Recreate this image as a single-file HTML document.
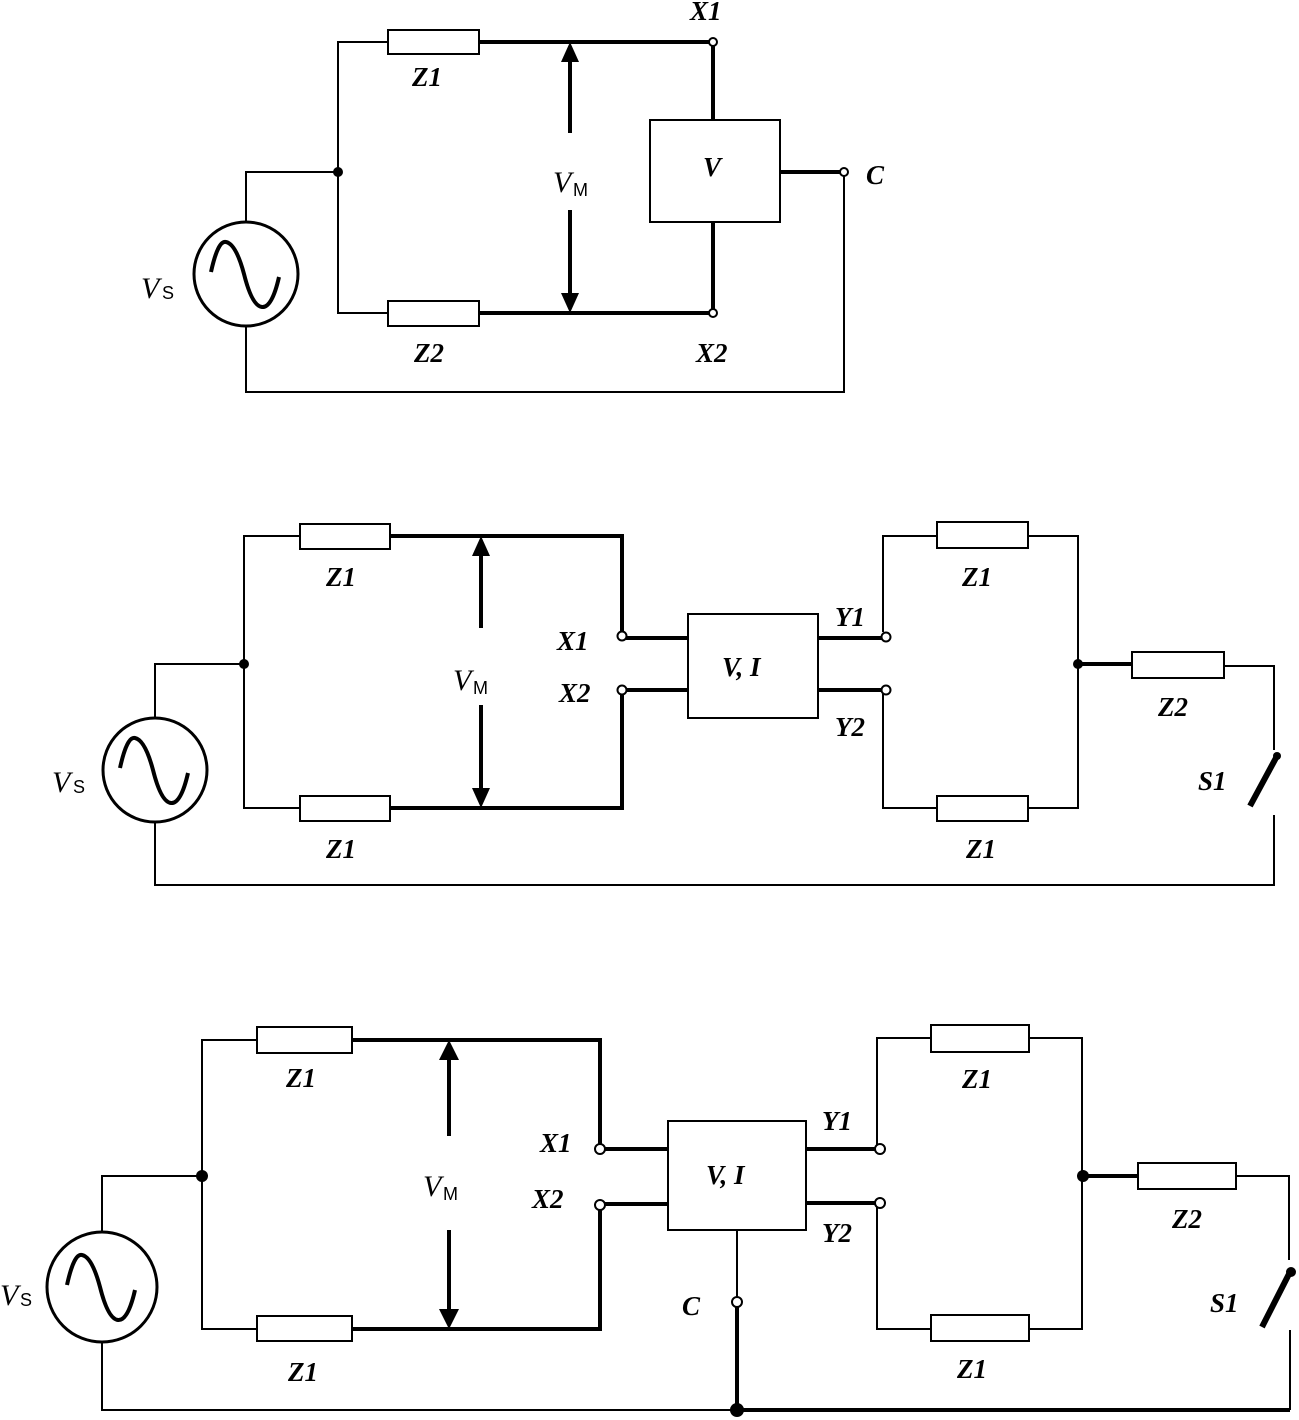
<!DOCTYPE html>
<html><head><meta charset="utf-8"><style>
html,body{margin:0;padding:0;background:#fff}
svg{display:block}
text{font-family:"Liberation Serif",serif;font-style:italic;font-weight:bold;font-size:27px;fill:#000}
.s{font-family:"Liberation Sans",sans-serif;font-style:normal;font-weight:normal;font-size:18px}
.vm{font-weight:normal;font-size:30px}
</style></head><body>
<svg width="1299" height="1420" viewBox="0 0 1299 1420" xmlns="http://www.w3.org/2000/svg">
<defs>
<g id="sine"><path d="M-35,-2 Q-28,-34 -20,-32 Q-10,-30 -2,0 Q6,32 16,33 Q26,34 33,3" fill="none" stroke="#000" stroke-width="4"/></g>
</defs>
<g fill="none" stroke="#000">
<!-- ===== Diagram 1 ===== -->
<g stroke-width="2">
<polyline points="388,42 338,42 338,313 388,313"/>
<polyline points="246,222 246,172 338,172"/>
<polyline points="246,326 246,392 844,392 844,176"/>
</g>
<g stroke-width="4">
<line x1="479" y1="42" x2="710" y2="42"/>
<line x1="479" y1="313" x2="710" y2="313"/>
<line x1="713" y1="46" x2="713" y2="120"/>
<line x1="713" y1="222" x2="713" y2="309"/>
<line x1="780" y1="172" x2="840" y2="172"/>
<line x1="570" y1="60" x2="570" y2="133"/>
<line x1="570" y1="210" x2="570" y2="296"/>
</g>
<g stroke-width="2">
<rect x="388" y="30" width="91" height="24" fill="#fff"/>
<rect x="388" y="301" width="91" height="25" fill="#fff"/>
<rect x="650" y="120" width="130" height="102" fill="#fff"/>
<ellipse cx="246" cy="274" rx="52" ry="52" stroke-width="3" fill="#fff"/>
<circle cx="713" cy="42" r="4" fill="#fff"/>
<circle cx="713" cy="313" r="4" fill="#fff"/>
<circle cx="844" cy="172" r="4" fill="#fff"/>
</g>
<use href="#sine" x="246" y="274"/>

<!-- ===== Diagram 2 ===== -->
<g stroke-width="2">
<polyline points="300,536 244,536 244,808 300,808"/>
<polyline points="155,718 155,664 244,664"/>
<polyline points="155,822 155,885 1274,885 1274,815"/>
<polyline points="883,632 883,536 937,536"/>
<polyline points="1028,536 1078,536 1078,808 1028,808"/>
<polyline points="883,694 883,808 937,808"/>
<polyline points="1224,666 1274,666 1274,750"/>
</g>
<g stroke-width="4">
<polyline points="390,536 622,536 622,632"/>
<polyline points="390,808 622,808 622,694"/>
<line x1="626" y1="638" x2="688" y2="638"/>
<line x1="626" y1="690" x2="688" y2="690"/>
<line x1="818" y1="638" x2="882" y2="638"/>
<line x1="818" y1="690" x2="882" y2="690"/>
<line x1="1078" y1="664" x2="1132" y2="664"/>
<line x1="481" y1="554" x2="481" y2="628"/>
<line x1="481" y1="705" x2="481" y2="791"/>
<line x1="1250" y1="806" x2="1277" y2="756" stroke-width="6"/>
</g>
<g stroke-width="2">
<rect x="300" y="524" width="90" height="25" fill="#fff"/>
<rect x="300" y="796" width="90" height="25" fill="#fff"/>
<rect x="937" y="522" width="91" height="26" fill="#fff"/>
<rect x="937" y="796" width="91" height="25" fill="#fff"/>
<rect x="1132" y="652" width="92" height="26" fill="#fff"/>
<rect x="688" y="614" width="130" height="104" fill="#fff"/>
<ellipse cx="155" cy="770" rx="52" ry="52" stroke-width="3" fill="#fff"/>
<circle cx="622" cy="636" r="4.5" fill="#fff"/>
<circle cx="622" cy="690" r="4.5" fill="#fff"/>
<circle cx="886" cy="637" r="4.5" fill="#fff"/>
<circle cx="886" cy="690" r="4.5" fill="#fff"/>
</g>
<use href="#sine" x="155" y="770"/>

<!-- ===== Diagram 3 ===== -->
<g stroke-width="2">
<polyline points="257,1040 202,1040 202,1329 257,1329"/>
<polyline points="102,1232 102,1176 202,1176"/>
<polyline points="102,1342 102,1410 737,1410"/>
<polyline points="877,1145 877,1038 931,1038"/>
<polyline points="1028,1038 1082,1038 1082,1329 1028,1329"/>
<polyline points="877,1207 877,1329 931,1329"/>
<polyline points="1236,1176 1289,1176 1289,1260"/>
<line x1="737" y1="1230" x2="737" y2="1298"/>
</g>
<g stroke-width="4">
<polyline points="352,1040 600,1040 600,1145"/>
<polyline points="352,1329 600,1329 600,1209"/>
<line x1="604" y1="1149" x2="668" y2="1149"/>
<line x1="604" y1="1204" x2="668" y2="1204"/>
<line x1="806" y1="1149" x2="876" y2="1149"/>
<line x1="806" y1="1203" x2="876" y2="1203"/>
<line x1="1082" y1="1176" x2="1138" y2="1176"/>
<line x1="737" y1="1307" x2="737" y2="1410"/>
<line x1="737" y1="1410" x2="1290" y2="1410"/>
<line x1="1290" y1="1330" x2="1290" y2="1410" stroke-width="2"/>
<line x1="449" y1="1058" x2="449" y2="1136"/>
<line x1="449" y1="1230" x2="449" y2="1312"/>
<line x1="1262" y1="1327" x2="1290" y2="1272" stroke-width="6"/>
</g>
<g stroke-width="2">
<rect x="257" y="1027" width="95" height="26" fill="#fff"/>
<rect x="257" y="1316" width="95" height="25" fill="#fff"/>
<rect x="931" y="1025" width="98" height="27" fill="#fff"/>
<rect x="931" y="1315" width="98" height="26" fill="#fff"/>
<rect x="1138" y="1163" width="98" height="26" fill="#fff"/>
<rect x="668" y="1121" width="138" height="109" fill="#fff"/>
<ellipse cx="102" cy="1287" rx="55" ry="55" stroke-width="3" fill="#fff"/>
<circle cx="600" cy="1149" r="5" fill="#fff"/>
<circle cx="600" cy="1205" r="5" fill="#fff"/>
<circle cx="880" cy="1149" r="5" fill="#fff"/>
<circle cx="880" cy="1203" r="5" fill="#fff"/>
<circle cx="737" cy="1302" r="5" fill="#fff"/>
</g>
<use href="#sine" x="102" y="1287"/>
</g>

<!-- dots, arrowheads -->
<g fill="#000">
<circle cx="338" cy="172" r="5"/>
<circle cx="244" cy="664" r="5"/>
<circle cx="1078" cy="664" r="5"/>
<circle cx="202" cy="1176" r="6"/>
<circle cx="1083" cy="1176" r="6"/>
<circle cx="737" cy="1410" r="7"/>
<circle cx="1277" cy="756" r="4"/>
<circle cx="1291" cy="1272" r="5"/>
<polygon points="570,42 561,62 579,62"/>
<polygon points="570,313 561,293 579,293"/>
<polygon points="481,536 472,556 490,556"/>
<polygon points="481,808 472,788 490,788"/>
<polygon points="449,1040 439,1060 459,1060"/>
<polygon points="449,1329 439,1309 459,1309"/>
</g>

<!-- labels -->
<text x="412" y="86">Z1</text>
<text x="414" y="362">Z2</text>
<text x="690" y="20">X1</text>
<text x="696" y="362">X2</text>
<text x="703" y="176">V</text>
<text x="866" y="184">C</text>
<text x="553" y="192" class="vm">V</text><text x="573" y="196" class="s">M</text>
<text x="141" y="298" class="vm">V</text><text x="162" y="299" class="s">S</text>

<text x="326" y="586">Z1</text>
<text x="326" y="858">Z1</text>
<text x="962" y="586">Z1</text>
<text x="966" y="858">Z1</text>
<text x="1158" y="716">Z2</text>
<text x="1198" y="790">S1</text>
<text x="557" y="650">X1</text>
<text x="559" y="702">X2</text>
<text x="835" y="626">Y1</text>
<text x="835" y="736">Y2</text>
<text x="722" y="676">V, I</text>
<text x="453" y="690" class="vm">V</text><text x="473" y="694" class="s">M</text>
<text x="52" y="792" class="vm">V</text><text x="73" y="793" class="s">S</text>

<text x="286" y="1087">Z1</text>
<text x="288" y="1381">Z1</text>
<text x="962" y="1088">Z1</text>
<text x="957" y="1378">Z1</text>
<text x="1172" y="1228">Z2</text>
<text x="1210" y="1312">S1</text>
<text x="540" y="1152">X1</text>
<text x="532" y="1208">X2</text>
<text x="822" y="1130">Y1</text>
<text x="822" y="1242">Y2</text>
<text x="682" y="1315">C</text>
<text x="706" y="1184">V, I</text>
<text x="423" y="1196" class="vm">V</text><text x="443" y="1200" class="s">M</text>
<text x="0" y="1305" class="vm">V</text><text x="20" y="1306" class="s">S</text>
</svg>
</body></html>
